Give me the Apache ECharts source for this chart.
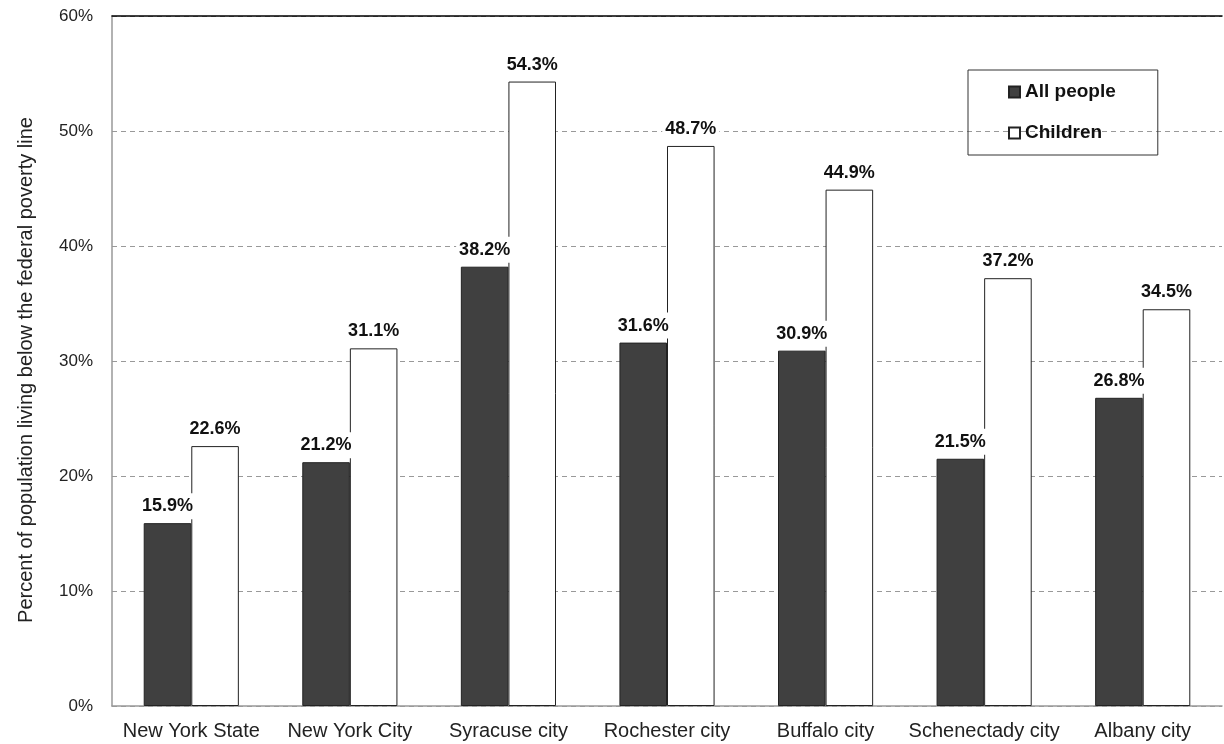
<!DOCTYPE html>
<html>
<head>
<meta charset="utf-8">
<script src="https://cdn.jsdelivr.net/npm/echarts@6/dist/echarts.min.js"></script>
<style>
  html, body { margin: 0; padding: 0; background: #fff; }
  #chart { width: 1224px; height: 744px; }
</style>
</head>
<body>
<div id="chart"></div>
<script>
// categories and values
var categories = ["New York State", "New York City", "Syracuse city", "Rochester city", "Buffalo city", "Schenectady city", "Albany city"];
var allPeople = [15.9, 21.2, 38.2, 31.6, 30.9, 21.5, 26.8];
var children = [22.6, 31.1, 54.3, 48.7, 44.9, 37.2, 34.5];
var yTicks = [0, 10, 20, 30, 40, 50, 60];

var chart = echarts.init(document.getElementById("chart"));
var font = "'Liberation Sans', Arial, sans-serif";

// label style shared by both series
var barLabel = {
  show: true,
  position: "top",
  distance: 4,
  formatter: function (p) { return p.value.toFixed(1) + "%"; },
  fontFamily: font,
  fontSize: 18,
  fontWeight: "bold",
  color: "#111",
  backgroundColor: "#fff",
  padding: [4, 3]
};

var option = {
  animation: false,
  grid: { left: 112, right: 2, top: 16, bottom: 38, outerBoundsMode: "none", containLabel: false },
  legend: {
    orient: "vertical",
    left: 968,
    top: 70,
    padding: [12, 42, 12, 40],
    itemGap: 21,
    itemWidth: 11,
    itemHeight: 11,
    icon: "rect",
    borderColor: "#333",
    borderWidth: 1,
    textStyle: { fontFamily: font, fontSize: 19, fontWeight: "bold", color: "#111", lineHeight: 20 },
    data: ["All people", "Children"]
  },
  xAxis: [{
    type: "category",
    data: categories,
    axisLine: { lineStyle: { color: "#999", width: 1.5 } },
    axisTick: { show: false },
    axisLabel: { fontFamily: font, fontSize: 20, color: "#222", margin: 15, interval: 0 }
  }, {
    type: "category",
    position: "top",
    data: categories,
    axisLine: { lineStyle: { color: "#000", width: 1.5 } },
    axisTick: { show: false },
    axisLabel: { show: false }
  }],
  yAxis: {
    type: "value",
    min: yTicks[0],
    max: yTicks[yTicks.length - 1],
    interval: 10,
    name: "Percent of population living below the federal poverty line",
    nameLocation: "middle",
    nameGap: 76,
    nameTextStyle: { fontFamily: font, fontSize: 20, color: "#222", padding: [0, 18, 0, 0] },
    axisLine: { show: true, lineStyle: { color: "#999", width: 1.5 } },
    axisTick: { show: false },
    axisLabel: { fontFamily: font, fontSize: 17, color: "#222", margin: 19, formatter: "{value}%" },
    splitLine: { show: true, lineStyle: { color: "#999", type: [5, 4], width: 1 } }
  },
  series: [{
    name: "All people",
    type: "bar",
    data: allPeople,
    barWidth: "30%",
    barGap: "0%",
    itemStyle: { color: "#404040", borderColor: "#222", borderWidth: 1 },
    label: barLabel,
    z: 2
  }, {
    name: "Children",
    type: "bar",
    data: children,
    barWidth: "30%",
    itemStyle: { color: "#fff", borderColor: "#222", borderWidth: 1 },
    label: barLabel,
    z: 2
  }]
};

chart.setOption(option);
window.addEventListener("resize", function () { chart.resize(); });
</script>
</body>
</html>
